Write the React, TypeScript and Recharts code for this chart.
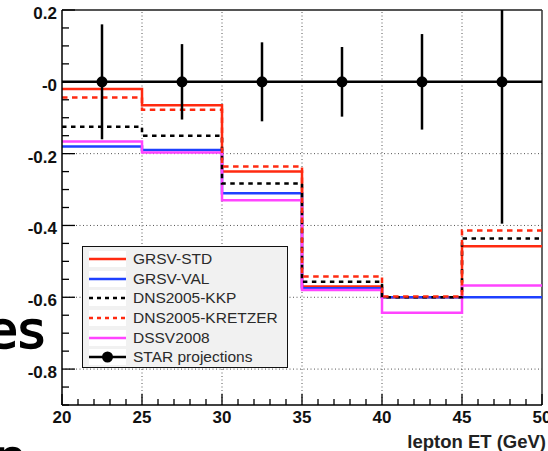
import React from "react";
import {
  ComposedChart,
  Line,
  Scatter,
  ErrorBar,
  XAxis,
  YAxis,
  ReferenceLine,
  Label,
} from "recharts";

// bin edges of the lepton ET histograms
const binEdges = [20, 25, 30, 35, 40, 45, 50];

// asymmetry per bin
const grsvStd = [-0.02, -0.065, -0.25, -0.57, -0.6, -0.458];
const grsvVal = [-0.18, -0.19, -0.31, -0.575, -0.6, -0.6];
const dnsKkp = [-0.125, -0.15, -0.283, -0.557, -0.6, -0.436];
const dnsKretzer = [-0.044, -0.078, -0.236, -0.542, -0.598, -0.414];
const dssv = [-0.166, -0.197, -0.33, -0.58, -0.643, -0.567];

// STAR projected points
const starX = [22.5, 27.5, 32.5, 37.5, 42.5, 47.5];
const starY = [0, 0, 0, 0, 0, 0];
const starErr = [0.16, 0.105, 0.11, 0.097, 0.133, 0.395];

// ticks
const xMajorTicks = [20, 25, 30, 35, 40, 45, 50];
const xTickLabels = ["20", "25", "30", "35", "40", "45", "50"];
const yMajorTicks = [0.2, 0, -0.2, -0.4, -0.6, -0.8];
const yTickLabels = ["0.2", "-0", "-0.2", "-0.4", "-0.6", "-0.8"];
const xGrid = [25, 30, 35, 40, 45];
const yGrid = [-0.2, -0.4, -0.6, -0.8];
const yDomain = [-0.9, 0.2];

const xAllTicks = Array.from({ length: 31 }, (_, i) => 20 + i);
const yAllTicks = Array.from({ length: 23 }, (_, i) => Math.round((-0.9 + i * 0.05) * 100) / 100);

const RED = "#ff2a10";
const BLUE = "#1e40ff";
const MAGENTA = "#ff44ff";
const FONT = "'Liberation Sans', Arial, Helvetica, sans-serif";

const histRows = (vals: number[]) =>
  binEdges.map((x, i) => ({ x, v: vals[Math.min(i, vals.length - 1)] }));

// error bars stop at the frame, like the original
const starRows = starX.map((x, i) => ({
  x,
  y: starY[i],
  err: [starErr[i], Math.min(starErr[i], yDomain[1] - starY[i])],
}));

const series = [
  { name: "GRSV-STD", vals: grsvStd, color: RED, dash: undefined },
  { name: "GRSV-VAL", vals: grsvVal, color: BLUE, dash: undefined },
  { name: "DSSV2008", vals: dssv, color: MAGENTA, dash: undefined },
  { name: "DNS2005-KKP", vals: dnsKkp, color: "#000", dash: "4.5 4.5" },
  { name: "DNS2005-KRETZER", vals: dnsKretzer, color: RED, dash: "5.5 4.5" },
];

const legendItems = [
  { name: "GRSV-STD", color: RED, dash: undefined, dot: false },
  { name: "GRSV-VAL", color: BLUE, dash: undefined, dot: false },
  { name: "DNS2005-KKP", color: "#000", dash: "4 4", dot: false },
  { name: "DNS2005-KRETZER", color: RED, dash: "4 4", dot: false },
  { name: "DSSV2008", color: MAGENTA, dash: undefined, dot: false },
  { name: "STAR projections", color: "#000", dash: undefined, dot: true },
];

const XTick = (props: any) => {
  const { x, y, payload } = props;
  const v = payload.value;
  const idx = xMajorTicks.indexOf(v);
  const major = idx >= 0;
  return (
    <g>
      <line x1={x} x2={x} y1={y} y2={y - (major ? 11 : 6)} stroke="#000" strokeWidth={1.3} />
      {major && (
        <text x={x} y={y + 18} textAnchor="middle" fontFamily={FONT} fontWeight="bold" fontSize={17} fill="#111">
          {xTickLabels[idx]}
        </text>
      )}
    </g>
  );
};

const YTick = (props: any) => {
  const { x, y, payload } = props;
  const v = payload.value;
  const idx = yMajorTicks.findIndex((t) => Math.abs(t - v) < 1e-6);
  const major = idx >= 0;
  return (
    <g>
      <line x1={x} x2={x + (major ? 13 : 7)} y1={y} y2={y} stroke="#000" strokeWidth={1.3} />
      {major && (
        <text x={x - 5} y={y + 9} textAnchor="end" fontFamily={FONT} fontWeight="bold" fontSize={17} fill="#111">
          {yTickLabels[idx]}
        </text>
      )}
    </g>
  );
};

const Legend = () => (
  <div
    style={{
      position: "absolute",
      left: 82,
      top: 246,
      width: 206,
      height: 122,
      background: "#f1f1f1",
      border: "1.5px solid #111",
      fontFamily: FONT,
      fontSize: 15.5,
      color: "#2a2a2a",
      paddingTop: 2,
      boxSizing: "border-box",
    }}
  >
    {legendItems.map((it) => (
      <div key={it.name} style={{ display: "flex", alignItems: "center", height: 19.7 }}>
        <svg width={48} height={18} style={{ flex: "none" }}>
          <rect x={6} y={1} width={37} height={16} fill="#fff" />
          <line
            x1={6}
            x2={43}
            y1={9}
            y2={9}
            stroke={it.color}
            strokeWidth={2.5}
            strokeDasharray={it.dash}
          />
          {it.dot && <circle cx={24.5} cy={9} r={5.5} fill="#000" />}
        </svg>
        <span style={{ marginLeft: 2, whiteSpace: "nowrap" }}>{it.name}</span>
      </div>
    ))}
  </div>
);

const slideText: React.CSSProperties = {
  position: "absolute",
  fontFamily: "'Comic Sans MS', 'DejaVu Sans', sans-serif",
  fontSize: 52,
  lineHeight: "60px",
  color: "#000",
  WebkitTextStroke: "1.6px #000",
};

export default function App() {
  return (
    <div style={{ position: "relative", width: 548, height: 451, overflow: "hidden", background: "#fff" }}>
      <style>{`body{margin:0}`}</style>
      <ComposedChart width={556} height={451} margin={{ top: 10, right: 14, bottom: 0, left: 0 }}>
        <XAxis
          type="number"
          dataKey="x"
          domain={[20, 50]}
          ticks={xAllTicks}
          interval={0}
          tickSize={0}
          tickMargin={0}
          height={46}
          axisLine={{ stroke: "#000", strokeWidth: 1.5 }}
          tickLine={false}
          tick={<XTick />}
          allowDataOverflow
        >
          <Label
            content={(p: any) => {
              const vb = p.viewBox;
              return (
                <text
                  x={vb.x + vb.width + 4}
                  y={vb.y + 43}
                  textAnchor="end"
                  fontFamily={FONT}
                  fontWeight="bold"
                  fontSize={18.5}
                  fill="#222"
                >
                  lepton ET (GeV)
                </text>
              );
            }}
          />
        </XAxis>
        <YAxis
          type="number"
          dataKey="y"
          domain={yDomain}
          ticks={yAllTicks}
          interval={0}
          tickSize={0}
          tickMargin={0}
          width={62}
          axisLine={{ stroke: "#000", strokeWidth: 1.5 }}
          tickLine={false}
          tick={<YTick />}
          allowDataOverflow
        />

        {xGrid.map((g) => (
          <ReferenceLine key={"gx" + g} x={g} stroke="#555" strokeDasharray="1 2.5" strokeWidth={1} />
        ))}
        {yGrid.map((g) => (
          <ReferenceLine key={"gy" + g} y={g} stroke="#555" strokeDasharray="1 2.5" strokeWidth={1} />
        ))}
        <ReferenceLine y={0.2} stroke="#555" strokeWidth={2} />
        <ReferenceLine x={50} stroke="#333" strokeWidth={1.5} />
        <ReferenceLine y={0} stroke="#000" strokeWidth={2.5} />

        {series.map((s) => (
          <Line
            key={s.name}
            name={s.name}
            data={histRows(s.vals)}
            dataKey="v"
            type="stepAfter"
            stroke={s.color}
            strokeWidth={2.5}
            strokeDasharray={s.dash}
            dot={false}
            activeDot={false}
            isAnimationActive={false}
          />
        ))}

        <Scatter
          name="STAR projections"
          data={starRows}
          dataKey="y"
          fill="#000"
          isAnimationActive={false}
          shape={(p: any) => <circle cx={p.cx} cy={p.cy} r={5.5} fill="#000" />}
        >
          <ErrorBar dataKey="err" direction="y" width={0} stroke="#000" strokeWidth={2.5} isAnimationActive={false} />
        </Scatter>
      </ComposedChart>
      <Legend />
      <div style={{ ...slideText, left: -14, top: 300 }}>es</div>
      <div style={{ ...slideText, left: -6, top: 428 }}>n</div>
    </div>
  );
}
